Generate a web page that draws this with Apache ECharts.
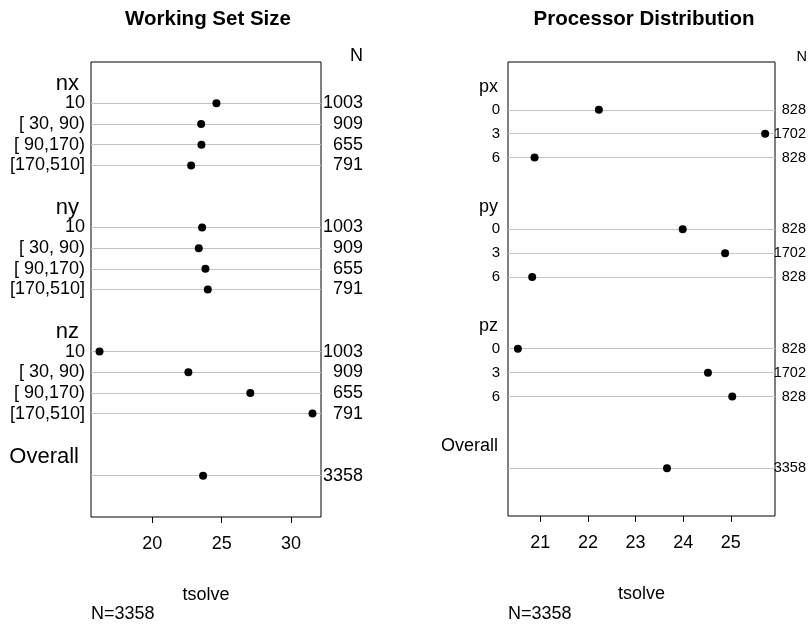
<!DOCTYPE html>
<html>
<head>
<meta charset="utf-8">
<script src="https://cdn.jsdelivr.net/npm/echarts@6/dist/echarts.min.js"></script>
<style>
html,body{margin:0;padding:0;background:#fff;}
#chart{width:809px;height:626px;}
</style>
</head>
<body>
<div id="chart"></div>
<script>
// ---------- data ----------
const wsTitle = 'Working Set Size';
const wsGroups = ['nx', 'ny', 'nz'];
const wsLevels = ['10', '[ 30, 90)', '[ 90,170)', '[170,510]'];
const wsN = [1003, 909, 655, 791];
const wsNx = [24.62, 23.52, 23.54, 22.80];
const wsNy = [23.59, 23.35, 23.83, 24.00];
const wsNz = [16.20, 22.60, 27.06, 31.54];
const wsTicks = [20, 25, 30];

const pdTitle = 'Processor Distribution';
const pdGroups = ['px', 'py', 'pz'];
const pdLevels = ['0', '3', '6'];
const pdN = [828, 1702, 828];
const pdPx = [22.23, 25.72, 20.88];
const pdPy = [23.99, 24.88, 20.83];
const pdPz = [20.53, 24.52, 25.03];
const pdTicks = [21, 22, 23, 24, 25];

const overallLabel = 'Overall';
const overallValue = 23.66;
const overallN = 3358;
const xName = 'tsolve';
const nFooter = 'N=3358';

// ---------- build rows ----------
function buildRows(groups, levels, valueSets, nList) {
  const rows = [{ type: 'blank' }];
  groups.forEach((g, gi) => {
    rows.push({ type: 'header', label: g });
    levels.forEach((lv, li) => {
      rows.push({ type: 'row', label: lv, value: valueSets[gi][li], n: nList[li] });
    });
    rows.push({ type: 'blank' });
  });
  rows.push({ type: 'header', label: overallLabel });
  rows.push({ type: 'row', label: '', value: overallValue, n: overallN });
  rows.push({ type: 'blank' });
  rows.push({ type: 'blank' });
  return rows;
}
const wsRows = buildRows(wsGroups, wsLevels, [wsNx, wsNy, wsNz], wsN);
const pdRows = buildRows(pdGroups, pdLevels, [pdPx, pdPy, pdPz], pdN);

function range(rows) {
  const v = rows.filter(r => r.type === 'row').map(r => r.value);
  const lo = Math.min(...v), hi = Math.max(...v), d = (hi - lo) * 0.04;
  return [lo - d, hi + d];
}

const FONT = '"Liberation Sans", Arial, Helvetica, sans-serif';

function panel(rows, gi, ticks, sz) {
  const cats = rows.map((r, i) => 'r' + i);
  const [mn, mx] = range(rows);
  const xAxis = {
    type: 'value', gridIndex: gi, min: mn, max: mx,
    axisLine: { show: false },
    splitLine: { show: false },
    axisTick: { show: true, customValues: ticks, length: 6, lineStyle: { color: '#000', width: 1 } },
    axisLabel: { customValues: ticks, fontSize: 18, color: '#000', fontFamily: FONT, margin: 18 },
    name: xName, nameLocation: 'middle', nameGap: 69,
    nameTextStyle: { fontSize: 18, color: '#000', fontFamily: FONT }
  };
  const yLeft = {
    type: 'category', gridIndex: gi, data: cats, inverse: true, boundaryGap: false,
    axisLine: { show: false }, axisTick: { show: false },
    splitLine: {
      show: true,
      interval: (idx) => rows[idx] && rows[idx].type === 'row',
      lineStyle: { color: '#c4c4c4', width: 1.2 }
    },
    axisLabel: {
      interval: 0, margin: sz.rowMargin, color: '#000', fontFamily: FONT,
      formatter: (v, i) => {
        const r = rows[i];
        if (!r || r.type === 'blank') return '';
        if (r.type === 'header') return '{h|' + r.label + '}';
        return '{r|' + r.label + '}';
      },
      rich: {
        h: { fontSize: sz.header, color: '#000', fontFamily: FONT, padding: [sz.headerDrop, sz.headerPad, 0, 0] },
        r: { fontSize: sz.row, color: '#000', fontFamily: FONT }
      }
    }
  };
  const yRight = {
    type: 'category', gridIndex: gi, data: cats, inverse: true, boundaryGap: false, position: 'right',
    axisLine: { show: false }, axisTick: { show: false }, splitLine: { show: false },
    axisLabel: {
      interval: 0, align: 'right', margin: sz.nMargin, fontSize: sz.n, color: '#000', fontFamily: FONT,
      formatter: (v, i) => (rows[i] && rows[i].type === 'row') ? String(rows[i].n) : ''
    }
  };
  const data = [];
  rows.forEach((r, i) => { if (r.type === 'row') data.push([r.value, i]); });
  return { xAxis, yAxes: [yLeft, yRight], data };
}

const P1 = panel(wsRows, 0, wsTicks, { header: 22, headerPad: 6, headerDrop: 3, row: 18, rowMargin: 6, n: 18, nMargin: 42 });
const P2 = panel(pdRows, 1, pdTicks, { header: 18, headerPad: 2, headerDrop: 3, row: 15, rowMargin: 8, n: 14.5, nMargin: 31 });

const chart = echarts.init(document.getElementById('chart'), null, { renderer: 'canvas' });
chart.setOption({
  animation: false,
  backgroundColor: '#fff',
  textStyle: { fontFamily: FONT },
  grid: [
    { left: 91, top: 62, width: 230, height: 455, show: true, borderColor: '#000', borderWidth: 1, backgroundColor: 'transparent', containLabel: false },
    { left: 508, top: 62, width: 268, height: 454, show: true, borderColor: '#000', borderWidth: 1, backgroundColor: 'transparent', containLabel: false }
  ],
  xAxis: [P1.xAxis, P2.xAxis],
  yAxis: [P1.yAxes[0], P1.yAxes[1], P2.yAxes[0], P2.yAxes[1]],
  series: [
    { type: 'scatter', xAxisIndex: 0, yAxisIndex: 0, data: P1.data, symbolSize: 8, itemStyle: { color: '#000', opacity: 1 }, z: 5 },
    { type: 'scatter', xAxisIndex: 1, yAxisIndex: 2, data: P2.data, symbolSize: 8, itemStyle: { color: '#000', opacity: 1 }, z: 5 }
  ],
  graphic: [
    { type: 'text', style: { text: wsTitle, x: 208, y: 19, align: 'center', verticalAlign: 'middle', font: 'bold 20.5px ' + FONT, fill: '#000' } },
    { type: 'text', style: { text: pdTitle, x: 644, y: 19, align: 'center', verticalAlign: 'middle', font: 'bold 20.5px ' + FONT, fill: '#000' } },
    { type: 'text', style: { text: 'N', x: 363, y: 56, align: 'right', verticalAlign: 'middle', font: '18px ' + FONT, fill: '#000' } },
    { type: 'text', style: { text: 'N', x: 807, y: 57, align: 'right', verticalAlign: 'middle', font: '14.5px ' + FONT, fill: '#000' } },
    { type: 'text', style: { text: nFooter, x: 91, y: 614, align: 'left', verticalAlign: 'middle', font: '18px ' + FONT, fill: '#000' } },
    { type: 'text', style: { text: nFooter, x: 508, y: 614, align: 'left', verticalAlign: 'middle', font: '18px ' + FONT, fill: '#000' } }
  ]
});
</script>
</body>
</html>
